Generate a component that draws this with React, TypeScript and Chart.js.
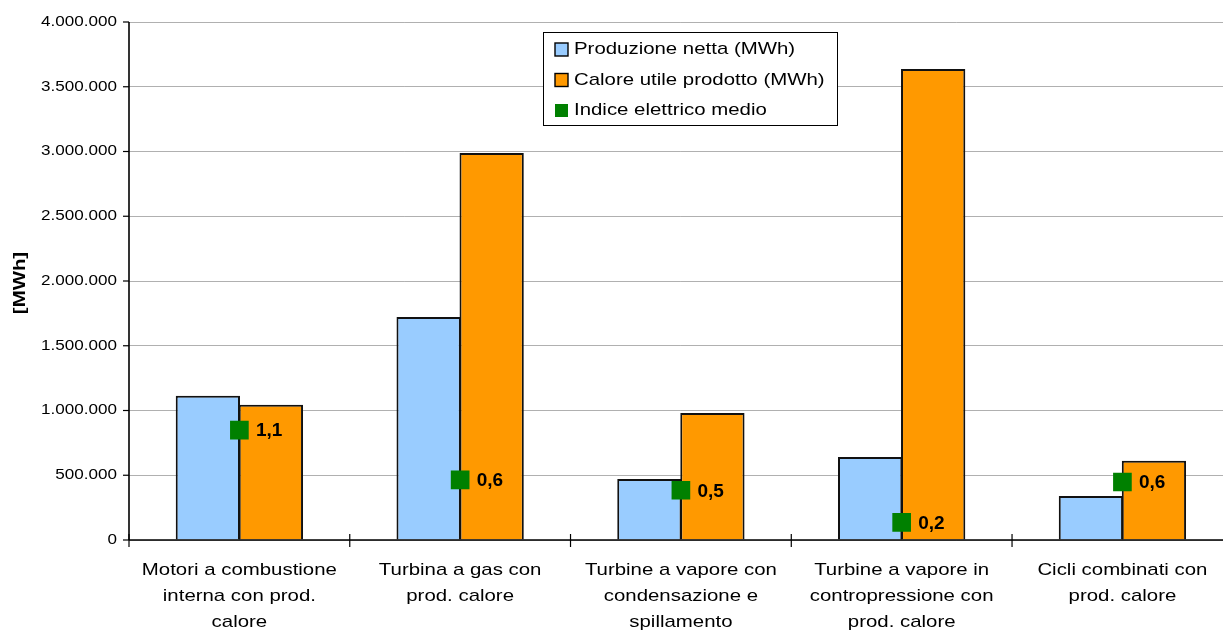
import React, { useEffect, useRef } from "react";
import { Chart, registerables } from "chart.js";

Chart.register(...registerables);

const categories: string[][] = [
  ["Motori a combustione", "interna con prod.", "calore"],
  ["Turbina a gas con", "prod. calore"],
  ["Turbine a vapore con", "condensazione e", "spillamento"],
  ["Turbine a vapore in", "contropressione con", "prod. calore"],
  ["Cicli combinati con", "prod. calore"],
];
const produzioneNetta = [1114000, 1722000, 471000, 641000, 340000];
const caloreUtile = [1045000, 2988000, 981000, 3637000, 612000];
const indiceElettrico = [1.06, 0.58, 0.48, 0.17, 0.56];
const seriesNames = [
  "Produzione netta (MWh)",
  "Calore utile prodotto (MWh)",
  "Indice elettrico medio",
];
const yTitle = "[MWh]";

const BLUE = "#99CCFF";
const ORANGE = "#FF9900";
const GREEN = "#008000";
const FONT = "'Liberation Sans', Arial, sans-serif";

function fmtThousands(v: number): string {
  return String(Math.round(v)).replace(/\B(?=(\d{3})+(?!\d))/g, ".");
}

function drawText(
  ctx: CanvasRenderingContext2D,
  text: string,
  x: number,
  y: number,
  font: string,
  sx: number,
  align: CanvasTextAlign,
  color = "#000",
  rot = 0
) {
  ctx.save();
  ctx.translate(x, y);
  if (rot) ctx.rotate(rot);
  ctx.scale(sx, 1);
  ctx.font = font;
  ctx.fillStyle = color;
  ctx.textAlign = align;
  ctx.textBaseline = "middle";
  ctx.fillText(text, 0, 0);
  ctx.restore();
}

const customPlugin = {
  id: "customDecor",
  afterDatasetsDraw(chart: any) {
    const ctx: CanvasRenderingContext2D = chart.ctx;
    const area = chart.chartArea;
    const y = chart.scales.y;
    const x = chart.scales.x;
    const n = categories.length;
    const w = x.getPixelForValue(1) - x.getPixelForValue(0);
    const x0 = x.getPixelForValue(0) - w / 2;
    ctx.save();
    ctx.strokeStyle = "#000";
    ctx.lineWidth = 1.6;
    // y axis line
    ctx.beginPath();
    ctx.moveTo(area.left, area.top);
    ctx.lineTo(area.left, area.bottom);
    ctx.stroke();
    // x axis line
    ctx.beginPath();
    ctx.moveTo(area.left, area.bottom);
    ctx.lineTo(area.right, area.bottom);
    ctx.stroke();
    ctx.lineWidth = 1.2;
    // y ticks
    y.ticks.forEach((t: any) => {
      const py = y.getPixelForValue(t.value);
      ctx.beginPath();
      ctx.moveTo(area.left - 6, py);
      ctx.lineTo(area.left, py);
      ctx.stroke();
    });
    // x boundary ticks
    for (let i = 0; i <= n; i++) {
      const px = x0 + i * w;
      ctx.beginPath();
      ctx.moveTo(px, area.bottom - 6);
      ctx.lineTo(px, area.bottom + 7);
      ctx.stroke();
    }
    ctx.restore();
  },
  afterDraw(chart: any) {
    const ctx: CanvasRenderingContext2D = chart.ctx;
    const area = chart.chartArea;
    const x = chart.scales.x;
    const y = chart.scales.y;
    const y2 = chart.scales.y2;

    // y tick labels
    y.ticks.forEach((t: any) => {
      const py = y.getPixelForValue(t.value);
      drawText(ctx, fmtThousands(t.value), area.left - 12, py, `14px ${FONT}`, 1.22, "right", "#000");
    });

    // y title
    drawText(ctx, yTitle, 20, (area.top + area.bottom) / 2 + 2, `bold 17px ${FONT}`, 1.2, "center", "#000", -Math.PI / 2);

    // x labels
    categories.forEach((lines, i) => {
      const px = x.getPixelForValue(i);
      lines.forEach((ln, j) => {
        drawText(ctx, ln, px, area.bottom + 30 + j * 26, `17px ${FONT}`, 1.2, "center", "#000");
      });
    });

    // data labels for indice
    indiceElettrico.forEach((v, i) => {
      const px = x.getPixelForValue(i);
      const py = y2.getPixelForValue(v);
      drawText(ctx, v.toFixed(1).replace(".", ","), px + 16.5, py + 1, `bold 19px ${FONT}`, 1.0, "left", "#000");
    });

    // legend
    const lx = 543.5, ly = 32.5, lw = 294, lh = 93;
    ctx.save();
    ctx.fillStyle = "#fff";
    ctx.fillRect(lx, ly, lw, lh);
    ctx.strokeStyle = "#000";
    ctx.lineWidth = 1;
    ctx.strokeRect(lx, ly, lw, lh);
    const colors = [BLUE, ORANGE, GREEN];
    const rows = [49.5, 80, 110.5];
    rows.forEach((ry, i) => {
      ctx.fillStyle = colors[i];
      ctx.fillRect(555, ry - 6.5, 13, 13);
      if (i < 2) {
        ctx.strokeStyle = "#000";
        ctx.lineWidth = 1.4;
        ctx.strokeRect(555, ry - 6.5, 13, 13);
      }
      drawText(ctx, seriesNames[i], 574, ry, `17px ${FONT}`, 1.2, "left", "#000");
    });
    ctx.restore();
  },
};

export default function App() {
  const ref = useRef<HTMLCanvasElement | null>(null);
  useEffect(() => {
    if (!ref.current) return;
    document.body.style.margin = "0";
    const chart = new Chart(ref.current, {
      type: "bar",
      data: {
        labels: categories.map((c) => c.join(" ")),
        datasets: [
          {
            type: "line",
            label: seriesNames[2],
            data: indiceElettrico,
            yAxisID: "y2",
            showLine: false,
            pointStyle: "rect",
            pointRadius: 13.2,
            pointHoverRadius: 13.2,
            pointBorderWidth: 0,
            backgroundColor: GREEN,
            borderColor: GREEN,
            order: 0,
          } as any,
          {
            label: seriesNames[0],
            data: produzioneNetta,
            backgroundColor: BLUE,
            borderColor: "#111",
            borderWidth: 2,
            yAxisID: "y",
            order: 1,
          },
          {
            label: seriesNames[1],
            data: caloreUtile,
            backgroundColor: ORANGE,
            borderColor: "#111",
            borderWidth: 2,
            yAxisID: "y",
            order: 1,
          },
        ],
      },
      options: {
        responsive: false,
        animation: false,
        layout: { padding: { left: 129, top: 22, right: 7.5, bottom: 91 } },
        datasets: { bar: { categoryPercentage: 0.571, barPercentage: 1.02 } },
        plugins: { legend: { display: false }, tooltip: { enabled: false } },
        scales: {
          x: { display: false, offset: true },
          y: {
            display: true,
            min: 0,
            max: 4000000,
            ticks: { display: false, stepSize: 500000 },
            grid: { color: "#b0b0b0", lineWidth: 1, drawTicks: false },
            border: { display: false },
          },
          y2: { display: false, min: 0, max: 5, position: "right" },
        },
      },
      plugins: [customPlugin],
    });
    return () => chart.destroy();
  }, []);
  return (
    <div style={{ position: "fixed", left: 0, top: 0, width: 1223, height: 631, overflow: "hidden", background: "#fff" }}>
      <canvas ref={ref} width={1246} height={631} style={{ width: "1246px", height: "631px", display: "block" }} />
    </div>
  );
}
